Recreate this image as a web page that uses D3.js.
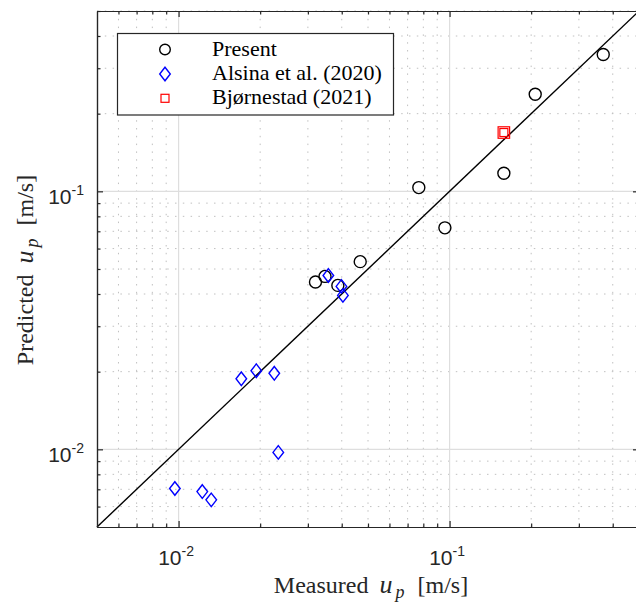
<!DOCTYPE html>
<html><head><meta charset="utf-8">
<script src="https://cdn.jsdelivr.net/npm/d3@7"></script>
<style>body{margin:0;background:#fff}</style>
</head><body><svg id="c" width="636" height="602"></svg>
<script>
// ---- data ----
const presentX=[0.0320,0.0347,0.0387,0.0468,0.0770,0.0961,0.1586,0.207,0.369];
const presentY=[0.0445,0.0468,0.0432,0.0534,0.1034,0.0722,0.1175,0.238,0.339];
const alsinaX=[0.0357,0.0399,0.0404,0.01704,0.01935,0.02255,0.02333,0.00969,0.01223,0.01320];
const alsinaY=[0.0472,0.0428,0.0395,0.01877,0.02017,0.01971,0.00973,0.00705,0.00686,0.00637];
const bjornX=[0.1586];
const bjornY=[0.169];
const majorTicks=[0.01,0.1];
const majorExponents=["-2","-1"];
const legendLabels=["Present","Alsina et al. (2020)","Bjørnestad (2021)"];
const axisDomain=[0.005,0.5];
const lineX=[0.005,0.5];

// ---- layout ----
const L=97,T=11,R=639,B=527;
const svg=d3.select("#c");
const x=d3.scaleLog().domain(axisDomain).range([L,R]);
const y=d3.scaleLog().domain(axisDomain).range([B,T]);
const minor=[];
for(let e=-3;e<=0;e++)for(let k=2;k<=9;k++){const v=k*Math.pow(10,e);if(v>=axisDomain[0]*1.0001&&v<=axisDomain[1]*1.0001&&!majorTicks.some(m=>Math.abs(m-v)<1e-9))minor.push(v);}
const axisCol="#262626";

// grid
const g=svg.append("g");
g.selectAll(".mx").data(minor).join("line").attr("x1",d=>x(d)).attr("x2",d=>x(d)).attr("y1",T).attr("y2",B)
 .attr("stroke","#c0c0c0").attr("stroke-width",1).attr("stroke-dasharray","1.5,6.3");
g.selectAll(".my").data(minor).join("line").attr("y1",d=>y(d)).attr("y2",d=>y(d)).attr("x1",L).attr("x2",R)
 .attr("stroke","#c0c0c0").attr("stroke-width",1).attr("stroke-dasharray","1.5,6.3");
g.selectAll(".Mx").data(majorTicks).join("line").attr("x1",d=>x(d)).attr("x2",d=>x(d)).attr("y1",T).attr("y2",B)
 .attr("stroke","#dedede").attr("stroke-width",1.2);
g.selectAll(".My").data(majorTicks).join("line").attr("y1",d=>y(d)).attr("y2",d=>y(d)).attr("x1",L).attr("x2",R)
 .attr("stroke","#dedede").attr("stroke-width",1.2);

// diagonal
svg.append("path").datum(lineX).attr("d",d3.line().x(d=>x(d)).y(d=>y(d)))
 .attr("stroke","#000").attr("stroke-width",1.4).attr("fill","none");

// markers
const diamond="M0,-6.8L5.3,0L0,6.8L-5.3,0Z";
svg.append("g").selectAll("circle").data(presentX).join("circle")
 .attr("cx",d=>x(d)).attr("cy",(d,i)=>y(presentY[i])).attr("r",6)
 .attr("fill","none").attr("stroke","#000").attr("stroke-width",1.4);
svg.append("g").selectAll("path").data(alsinaX).join("path")
 .attr("transform",(d,i)=>`translate(${x(d)},${y(alsinaY[i])})`).attr("d",diamond)
 .attr("fill","none").attr("stroke","#0000ff").attr("stroke-width",1.4);
[11.5,8].forEach(s=>{
 svg.append("g").selectAll("rect").data(bjornX).join("rect")
 .attr("x",d=>x(d)-s/2).attr("y",(d,i)=>y(bjornY[i])-s/2).attr("width",s).attr("height",s)
 .attr("fill","none").attr("stroke","#ff0000").attr("stroke-width",1.2);
});

// axes
function styleAxis(sel){sel.select(".domain").attr("stroke",axisCol).attr("stroke-width",1.2);sel.selectAll(".tick line").attr("stroke",axisCol).attr("stroke-width",1.2);}
function label(sel,isLeft){
 sel.selectAll(".tick text").each(function(d,i){
  const t=d3.select(this).text(null).attr("fill",axisCol).attr("font-family","Liberation Sans, Arial, sans-serif").attr("font-size",21).attr("dy",null);
  if(isLeft){t.attr("x",-13).attr("y",12).attr("text-anchor","end");}
  else{t.attr("x",-3).attr("y",38).attr("text-anchor","middle");}
  t.append("tspan").text("10");
  t.append("tspan").attr("dy",-9).attr("font-size",14).text(majorExponents[i]);
 });
}
const bx=svg.append("g").attr("transform",`translate(0,${B})`).call(d3.axisBottom(x).tickValues(majorTicks).tickSize(-6).tickSizeOuter(0));
styleAxis(bx);label(bx,false);
const bxm=svg.append("g").attr("transform",`translate(0,${B})`).call(d3.axisBottom(x).tickValues(minor).tickSize(-3.5).tickSizeOuter(0).tickFormat(""));
styleAxis(bxm);
const tx=svg.append("g").attr("transform",`translate(0,${T})`).call(d3.axisTop(x).tickValues(majorTicks).tickSize(-6).tickSizeOuter(0).tickFormat(""));
styleAxis(tx);
const txm=svg.append("g").attr("transform",`translate(0,${T})`).call(d3.axisTop(x).tickValues(minor).tickSize(-3.5).tickSizeOuter(0).tickFormat(""));
styleAxis(txm);
const ly=svg.append("g").attr("transform",`translate(${L},0)`).call(d3.axisLeft(y).tickValues(majorTicks).tickSize(-6).tickSizeOuter(0));
styleAxis(ly);label(ly,true);
const lym=svg.append("g").attr("transform",`translate(${L},0)`).call(d3.axisLeft(y).tickValues(minor).tickSize(-3.5).tickSizeOuter(0).tickFormat(""));
styleAxis(lym);
const ry=svg.append("g").attr("transform",`translate(${R},0)`).call(d3.axisRight(y).tickValues(majorTicks).tickSize(-6).tickSizeOuter(0).tickFormat(""));
styleAxis(ry);

// axis labels
const serif="Liberation Serif, Times New Roman, serif";
function axisLabel(sel,word){
 sel.append("tspan").text(word);
 sel.append("tspan").attr("dx",11).attr("font-style","italic").attr("font-size",26).text("u");
 sel.append("tspan").attr("dx",3).attr("font-style","italic").attr("font-size",18).attr("dy",5).text("p");
 sel.append("tspan").attr("dx",13).attr("dy",-5).text("[m/s]");
}
const xl=svg.append("text").attr("x",371).attr("y",593).attr("text-anchor","middle").attr("font-family",serif).attr("font-size",24).attr("fill",axisCol);
axisLabel(xl,"Measured");
const yl=svg.append("text").attr("transform","translate(33,270) rotate(-90)").attr("text-anchor","middle").attr("font-family",serif).attr("font-size",24).attr("fill",axisCol);
axisLabel(yl,"Predicted");

// legend
const lg=svg.append("g");
lg.append("rect").attr("x",117.5).attr("y",33.5).attr("width",276).attr("height",81.5).attr("fill","#fff").attr("stroke",axisCol).attr("stroke-width",1.2);
const rows=[49.5,74,98.3];
lg.append("circle").attr("cx",165).attr("cy",rows[0]).attr("r",5.3).attr("fill","none").attr("stroke","#000").attr("stroke-width",1.4);
lg.append("path").attr("transform",`translate(165,${rows[1]})`).attr("d",diamond).attr("fill","none").attr("stroke","#0000ff").attr("stroke-width",1.4);
lg.append("rect").attr("x",161).attr("y",rows[2]-4).attr("width",8).attr("height",8).attr("fill","none").attr("stroke","#ff0000").attr("stroke-width",1.2);
lg.selectAll("text").data(legendLabels).join("text").attr("x",212).attr("y",(d,i)=>rows[i]+6).attr("font-family",serif).attr("font-size",22).attr("fill","#000").text(d=>d);
</script></body></html>
